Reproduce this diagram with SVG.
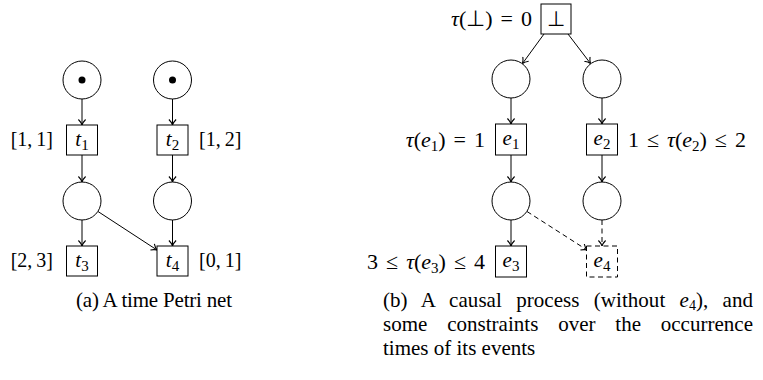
<svg xmlns="http://www.w3.org/2000/svg" width="763" height="380" viewBox="0 0 763 380">
<style>
.pl{fill:#fff;stroke:#000;stroke-width:1}
.tr{fill:#fff;stroke:#000;stroke-width:1}
.dash{stroke-dasharray:5,3.5}
.tok{fill:#000}
.cn{fill:none;stroke:#000;stroke-width:1}
.lb{font-family:"Liberation Serif",serif;font-size:20px;fill:#000}
.mb{font-family:"Liberation Serif",serif;font-size:21px;fill:#000}
.eq{font-size:22px;word-spacing:2.5px}
.it{font-style:italic}
.cap{font-family:"Liberation Serif",serif;font-size:21px;fill:#000}
</style>
<defs>
<marker id="ah" markerUnits="userSpaceOnUse" markerWidth="12" markerHeight="12" viewBox="-6 -6 12 12" refX="0" refY="0" orient="auto">
<path d="M-5.5,-3.6 C-3.4,-1.5 -1.3,-0.4 0,0 C-1.3,0.4 -3.4,1.5 -5.5,3.6" fill="none" stroke="#000" stroke-width="1.1"/>
</marker>
</defs>
<rect width="763" height="380" fill="#fff"/>

<g id="connectors">
<line class="cn" x1="82" y1="99" x2="82" y2="125" marker-end="url(#ah)"/>
<line class="cn" x1="172.5" y1="99" x2="172.5" y2="125" marker-end="url(#ah)"/>
<line class="cn" x1="82" y1="155" x2="82" y2="182" marker-end="url(#ah)"/>
<line class="cn" x1="172.5" y1="155" x2="172.5" y2="182" marker-end="url(#ah)"/>
<line class="cn" x1="82" y1="220" x2="82" y2="246" marker-end="url(#ah)"/>
<line class="cn" x1="172.5" y1="220" x2="172.5" y2="246" marker-end="url(#ah)"/>
<line class="cn" x1="98" y1="211.5" x2="157" y2="250" marker-end="url(#ah)"/>

<line class="cn" x1="544" y1="34" x2="522.5" y2="63.5" marker-end="url(#ah)"/>
<line class="cn" x1="568" y1="34" x2="590.5" y2="63.5" marker-end="url(#ah)"/>
<line class="cn" x1="511" y1="98" x2="511" y2="124" marker-end="url(#ah)"/>
<line class="cn" x1="602" y1="98" x2="602" y2="124" marker-end="url(#ah)"/>
<line class="cn" x1="511" y1="155" x2="511" y2="182" marker-end="url(#ah)"/>
<line class="cn" x1="602" y1="155" x2="602" y2="182" marker-end="url(#ah)"/>
<line class="cn" x1="511" y1="220" x2="511" y2="246" marker-end="url(#ah)"/>
<line class="cn dash" x1="602" y1="220" x2="602" y2="246" marker-end="url(#ah)"/>
<line class="cn dash" x1="527" y1="211.5" x2="587" y2="250" marker-end="url(#ah)"/>
</g>

<g id="p1"><circle class="pl" cx="82" cy="80" r="19"/><circle class="tok" cx="82" cy="80" r="3.5"/></g>
<g id="p2"><circle class="pl" cx="172.5" cy="80" r="19"/><circle class="tok" cx="172.5" cy="80" r="3.5"/></g>
<g id="t1"><rect class="tr" x="66.5" y="125" width="31" height="30"/>
<text class="mb" x="82" y="146" text-anchor="middle"><tspan class="it">t</tspan><tspan font-size="15" dy="4">1</tspan></text>
<text class="lb" x="53" y="146" text-anchor="end">[1,&#8201;1]</text></g>
<g id="t2"><rect class="tr" x="157" y="125" width="31" height="30"/>
<text class="mb" x="172.5" y="146" text-anchor="middle"><tspan class="it">t</tspan><tspan font-size="15" dy="4">2</tspan></text>
<text class="lb" x="199" y="146">[1,&#8201;2]</text></g>
<g id="p3"><circle class="pl" cx="82" cy="201" r="19"/></g>
<g id="p4"><circle class="pl" cx="172.5" cy="201" r="19"/></g>
<g id="t3"><rect class="tr" x="66.5" y="246" width="31" height="30"/>
<text class="mb" x="82" y="267" text-anchor="middle"><tspan class="it">t</tspan><tspan font-size="15" dy="4">3</tspan></text>
<text class="lb" x="53" y="267" text-anchor="end">[2,&#8201;3]</text></g>
<g id="t4"><rect class="tr" x="157" y="246" width="31" height="30"/>
<text class="mb" x="172.5" y="267" text-anchor="middle"><tspan class="it">t</tspan><tspan font-size="15" dy="4">4</tspan></text>
<text class="lb" x="199" y="267">[0,&#8201;1]</text></g>

<g id="bot"><rect class="tr" x="541" y="4" width="30" height="30"/>
<text class="mb" x="556" y="26" text-anchor="middle">⊥</text>
<text class="mb eq" x="532" y="26" text-anchor="end"><tspan class="it">τ</tspan>(⊥) = 0</text></g>
<g id="c1"><circle class="pl" cx="511" cy="79" r="19"/></g>
<g id="c2"><circle class="pl" cx="602" cy="79" r="19"/></g>
<g id="e1"><rect class="tr" x="495.5" y="124" width="31" height="31"/>
<text class="mb" x="511" y="145" text-anchor="middle"><tspan class="it">e</tspan><tspan font-size="15" dy="4">1</tspan></text>
<text class="mb eq" x="485" y="147" text-anchor="end"><tspan class="it">τ</tspan>(<tspan class="it">e</tspan><tspan font-size="15" dy="4">1</tspan><tspan dy="-4">) = 1</tspan></text></g>
<g id="e2"><rect class="tr" x="586.5" y="124" width="31" height="31"/>
<text class="mb" x="602" y="145" text-anchor="middle"><tspan class="it">e</tspan><tspan font-size="15" dy="4">2</tspan></text>
<text class="mb eq" x="628" y="147">1 ≤ <tspan class="it">τ</tspan>(<tspan class="it">e</tspan><tspan font-size="15" dy="4">2</tspan><tspan dy="-4">) ≤ 2</tspan></text></g>
<g id="c3"><circle class="pl" cx="511" cy="201" r="19"/></g>
<g id="c4"><circle class="pl" cx="602" cy="201" r="19"/></g>
<g id="e3"><rect class="tr" x="495.5" y="246" width="31" height="31"/>
<text class="mb" x="511" y="267" text-anchor="middle"><tspan class="it">e</tspan><tspan font-size="15" dy="4">3</tspan></text>
<text class="mb eq" x="485" y="269" text-anchor="end">3 ≤ <tspan class="it">τ</tspan>(<tspan class="it">e</tspan><tspan font-size="15" dy="4">3</tspan><tspan dy="-4">) ≤ 4</tspan></text></g>
<g id="e4"><rect class="tr dash" x="586.5" y="246" width="31" height="31"/>
<text class="mb" x="602" y="267" text-anchor="middle"><tspan class="it">e</tspan><tspan font-size="15" dy="4">4</tspan></text></g>

<g id="captions">
<text class="cap" x="76" y="307" textLength="156" lengthAdjust="spacing">(a) A time Petri net</text>
<text class="cap" x="383" y="307" word-spacing="9" textLength="370" lengthAdjust="spacing">(b) A causal process (without <tspan class="it">e</tspan><tspan font-size="14" dy="3">4</tspan><tspan dy="-3">), and</tspan></text>
<text class="cap" x="383" y="331" word-spacing="14.5" textLength="370" lengthAdjust="spacing">some constraints over the occurrence</text>
<text class="cap" x="383" y="355">times of its events</text>
</g>
</svg>
